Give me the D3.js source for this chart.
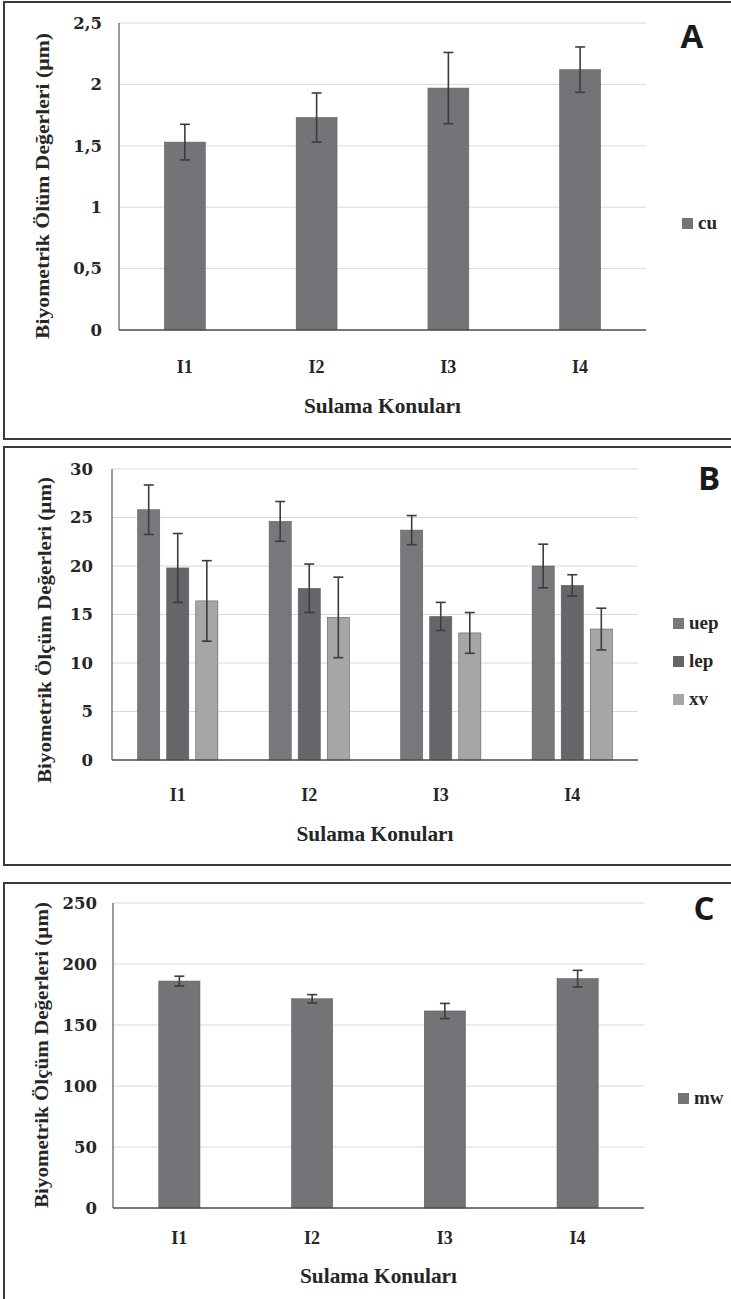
<!DOCTYPE html>
<html>
<head>
<meta charset="utf-8">
<script src="https://cdn.jsdelivr.net/npm/d3@7"></script>
<style>
  body { margin: 0; background: #fff; }
  .serif { font-family: "Liberation Serif", "DejaVu Serif", serif; font-weight: bold; fill: #262626; }
  .tick-label { font-family: "DejaVu Serif", serif; font-weight: bold; font-size: 16.5px; fill: #262626; }
  .letter { font-family: "Open Sans", "Liberation Sans", sans-serif; font-weight: bold; font-size: 33px; fill: #1a1a1a; }
</style>
</head>
<body>
<script>
// Data
const categories = ["I1", "I2", "I3", "I4"];

const cuValues = [1.53, 1.73, 1.97, 2.12];
const cuErrors = [0.145, 0.2, 0.29, 0.185];

const uepValues = [25.8, 24.6, 23.7, 20.0];
const uepErrors = [2.55, 2.05, 1.5, 2.25];
const lepValues = [19.8, 17.7, 14.8, 18.0];
const lepErrors = [3.55, 2.5, 1.45, 1.1];
const xvValues = [16.4, 14.7, 13.1, 13.5];
const xvErrors = [4.15, 4.15, 2.1, 2.15];

const mwValues = [186, 171.5, 161.5, 188];
const mwErrors = [4, 3.4, 6.2, 6.8];

const ticksA = [0, 0.5, 1, 1.5, 2, 2.5];
const ticksB = [0, 5, 10, 15, 20, 25, 30];
const ticksC = [0, 50, 100, 150, 200, 250];

const xTitle = "Sulama Konuları";

const svg = d3.select("body")
  .append("svg")
  .attr("width", 731)
  .attr("height", 1299);

// Panel layouts
const panels = [
  {
    letter: "A", box: [2, 439], left: 119, right: 646, top: 23, bottom: 330,
    ticks: ticksA, yTitle: "Biyometrik Ölüm Değerleri (µm)", yTitleY: 186, yTitleX: 43,
    series: [{ name: "cu", values: cuValues, errors: cuErrors, color: "#737378" }],
    letterX: 692, letterY: 48, legendX: 682, legendY: 218, tickX: 102,
    xTickY: 373, xTitleY: 413
  },
  {
    letter: "B", box: [447, 865], left: 112, right: 638, top: 469, bottom: 760,
    ticks: ticksB, yTitle: "Biyometrik Ölçüm Değerleri (µm)", yTitleY: 630, yTitleX: 45,
    series: [
      { name: "uep", values: uepValues, errors: uepErrors, color: "#78787c" },
      { name: "lep", values: lepValues, errors: lepErrors, color: "#66666a" },
      { name: "xv", values: xvValues, errors: xvErrors, color: "#a6a6a9" }
    ],
    letterX: 709, letterY: 490, legendX: 673, legendY: 618, tickX: 93,
    xTickY: 801, xTitleY: 841
  },
  {
    letter: "C", box: [883, 1320], left: 113, right: 644, top: 903, bottom: 1208,
    ticks: ticksC, yTitle: "Biyometrik Ölçüm Değerleri (µm)", yTitleY: 1055, yTitleX: 42,
    series: [{ name: "mw", values: mwValues, errors: mwErrors, color: "#737378" }],
    letterX: 704, letterY: 920, legendX: 678, legendY: 1093, tickX: 97,
    xTickY: 1244, xTitleY: 1283
  }
];

panels.forEach(p => drawPanel(p));

function drawPanel(p)
{
  const g = svg.append("g");

  // Frame around the panel
  g.append("rect")
    .attr("x", 4)
    .attr("y", p.box[0])
    .attr("width", 740)
    .attr("height", p.box[1] - p.box[0])
    .attr("fill", "none")
    .attr("stroke", "#3a3a3a")
    .attr("stroke-width", 2);

  const x = d3.scaleBand()
    .domain(categories)
    .range([p.left, p.right]);

  const y = d3.scaleLinear()
    .domain([0, d3.max(p.ticks)])
    .range([p.bottom, p.top]);

  // Gridlines
  g.selectAll(".grid")
    .data(p.ticks.slice(1))
    .join("line")
    .attr("x1", p.left)
    .attr("x2", p.right)
    .attr("y1", d => y(d))
    .attr("y2", d => y(d))
    .attr("stroke", "#d9d9d9")
    .attr("stroke-width", 1);

  // Tick labels
  g.selectAll(".tick-label.y")
    .data(p.ticks)
    .join("text")
    .attr("class", "tick-label y")
    .attr("x", p.tickX)
    .attr("y", d => y(d))
    .attr("dy", "0.35em")
    .attr("text-anchor", "end")
    .text(d => String(d).replace(".", ","));

  // Bars and error bars
  const names = p.series.map(s => s.name);
  const groupWidth = p.series.length > 1 ? x.bandwidth() * 0.61 : x.bandwidth() * 0.31;
  const inner = d3.scaleBand()
    .domain(names)
    .range([-groupWidth / 2, groupWidth / 2])
    .paddingInner(p.series.length > 1 ? 0.24 : 0);

  p.series.forEach(s =>
  {
    const rows = categories.map((c, i) => ({ cat: c, value: s.values[i], err: s.errors[i] }));
    const cx = d => x(d.cat) + x.bandwidth() / 2 + inner(s.name);

    g.selectAll(null)
      .data(rows)
      .join("rect")
      .attr("x", d => cx(d))
      .attr("y", d => y(d.value))
      .attr("width", inner.bandwidth())
      .attr("height", d => p.bottom - y(d.value))
      .attr("fill", s.color)
      .attr("stroke", "#5e5e62")
      .attr("stroke-width", 0.6);

    const mid = d => cx(d) + inner.bandwidth() / 2;
    const err = g.selectAll(null)
      .data(rows)
      .join("g")
      .attr("stroke", "#3c3c3c")
      .attr("stroke-width", 1.6);

    err.append("line")
      .attr("x1", mid).attr("x2", mid)
      .attr("y1", d => y(d.value + d.err))
      .attr("y2", d => y(d.value - d.err));
    err.append("line")
      .attr("x1", d => mid(d) - 5).attr("x2", d => mid(d) + 5)
      .attr("y1", d => y(d.value + d.err))
      .attr("y2", d => y(d.value + d.err));
    err.append("line")
      .attr("x1", d => mid(d) - 5).attr("x2", d => mid(d) + 5)
      .attr("y1", d => y(d.value - d.err))
      .attr("y2", d => y(d.value - d.err));
  });

  // Axis lines
  g.append("line")
    .attr("x1", p.left).attr("x2", p.left)
    .attr("y1", p.top).attr("y2", p.bottom)
    .attr("stroke", "#595959")
    .attr("stroke-width", 1.2);
  g.append("line")
    .attr("x1", p.left).attr("x2", p.right)
    .attr("y1", p.bottom).attr("y2", p.bottom)
    .attr("stroke", "#4d4d4d")
    .attr("stroke-width", 1.6);

  // Category labels
  g.selectAll(".xcat")
    .data(categories)
    .join("text")
    .attr("class", "serif")
    .attr("x", d => x(d) + x.bandwidth() / 2)
    .attr("y", p.xTickY)
    .attr("text-anchor", "middle")
    .attr("font-size", 18)
    .text(d => d);

  // Axis titles
  g.append("text")
    .attr("class", "serif")
    .attr("x", (p.left + p.right) / 2)
    .attr("y", p.xTitleY)
    .attr("text-anchor", "middle")
    .attr("font-size", 20)
    .attr("textLength", 157)
    .attr("lengthAdjust", "spacingAndGlyphs")
    .text(xTitle);

  g.append("text")
    .attr("class", "serif")
    .attr("transform", `translate(${p.yTitleX + 6},${p.yTitleY}) rotate(-90)`)
    .attr("text-anchor", "middle")
    .attr("font-size", 19)
    .attr("textLength", 306)
    .attr("lengthAdjust", "spacingAndGlyphs")
    .text(p.yTitle);

  // Panel letter
  g.append("text")
    .attr("class", "letter")
    .attr("x", p.letterX)
    .attr("y", p.letterY)
    .attr("text-anchor", "middle")
    .text(p.letter);

  // Legend
  const legend = g.selectAll(".legend")
    .data(p.series)
    .join("g")
    .attr("transform", (d, i) => `translate(${p.legendX},${p.legendY + i * 38})`);

  legend.append("rect")
    .attr("width", 11)
    .attr("height", 11)
    .attr("fill", d => d.color);

  legend.append("text")
    .attr("class", "serif")
    .attr("x", 16)
    .attr("y", 11)
    .attr("font-size", 19)
    .text(d => d.name);
}
</script>
</body>
</html>
